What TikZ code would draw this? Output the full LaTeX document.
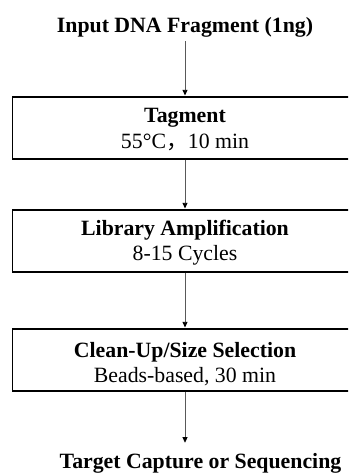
\documentclass[tikz,border=0pt]{standalone}
\usepackage{fontspec}
\setmainfont{Liberation Serif}
\newfontfamily\cjk{Noto Sans CJK SC}
\usetikzlibrary{arrows.meta}
\begin{document}
\begin{tikzpicture}[x=1pt,y=-1pt,
  box/.style={draw=black,line width=1.2pt,fill=white,minimum width=345pt,minimum height=62pt,inner sep=0pt},
  boldtext/.style={font=\fontsize{21.8}{25}\selectfont\bfseries,inner sep=0pt,anchor=base},
  plaintext/.style={font=\fontsize{21.8}{25}\selectfont,inner sep=0pt,anchor=base},
  flow/.style={draw=black!65,line width=0.8pt,-{Triangle[length=5.5pt,width=5pt,color=black]}}]
\useasboundingbox (0,0) rectangle (348,476);
\clip (0,0) rectangle (348,476);
\fill[white] (0,0) rectangle (348,476);
\node[boldtext] (title) at (185,33) {Input DNA Fragment (1ng)};
\node[box] (b1) at (185,128) {};
\node[boldtext] (t1) at (185,123) {Tagment};
\node[plaintext] (s1) at (185,148) {55°C{\cjk，}10 min};
\node[box] (b2) at (185,241) {};
\node[boldtext] (t2) at (185,235) {Library Amplification};
\node[plaintext] (s2) at (185,260) {8-15 Cycles};
\node[box] (b3) at (185,360) {};
\node[boldtext] (t3) at (185,357) {Clean-Up/Size Selection};
\node[plaintext] (s3) at (185,382) {Beads-based, 30 min};
\node[boldtext] (final) at (200.5,468) {Target Capture or Sequencing};
\draw[flow,shorten <=3.3pt,shorten >=1pt] (title.south) -- (b1.north);
\draw[flow,shorten >=1pt] (b1.south) -- (b2.north);
\draw[flow,shorten >=1pt] (b2.south) -- (b3.north);
\draw[flow,shorten >=10pt] (b3.south) -- (b3.south |- final.north);
\end{tikzpicture}
\end{document}
